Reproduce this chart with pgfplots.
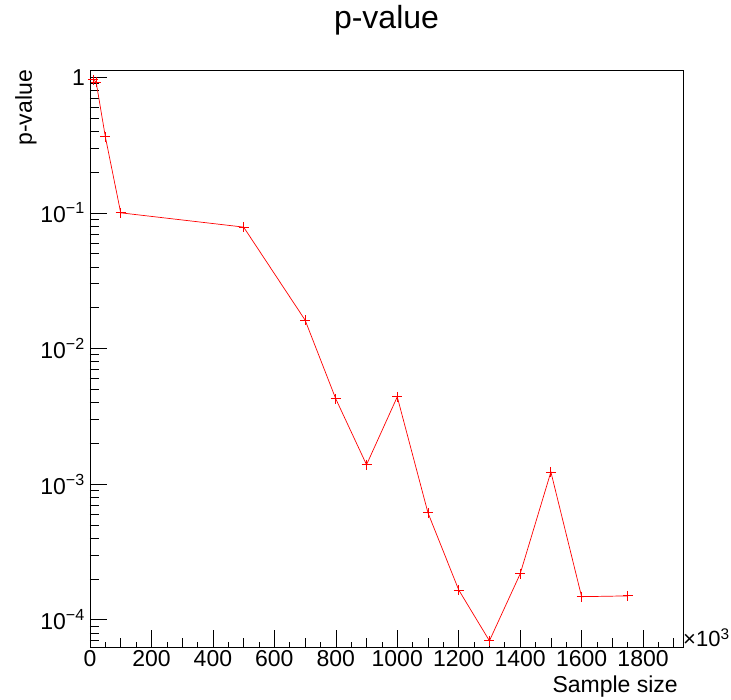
\documentclass[border=0pt]{standalone}
\usepackage{fontspec}
\setmainfont{Liberation Sans}
\usepackage{pgfplots}
\pgfplotsset{compat=1.18}
\begin{document}
\begin{tikzpicture}
\begin{axis}[
  name=ax,
  at={(0,0)}, anchor=south west,
  scale only axis, width=593pt, height=577pt,
  ymode=log,
  xmin=0, xmax=1930, ymin=6.3e-5, ymax=1.13,
  axis line style={line width=0.8pt, black},
  every tick/.style={black, line width=0.6pt},
  tick pos=left, tick align=inside,
  xtick={0,200,...,1800},
  minor xtick={100,300,...,1900},
  extra x ticks={50,150,...,1900},
  extra x tick labels={},
  extra x tick style={major tick length=5pt},
  major tick length=17pt,
  minor tick length=9pt,
  ytick={1e-4,1e-3,1e-2,1e-1,1},
  yticklabels={10\textsuperscript{−4},10\textsuperscript{−3},10\textsuperscript{−2},10\textsuperscript{−1},1},
  minor ytick={7e-5,8e-5,9e-5,2e-4,3e-4,4e-4,5e-4,6e-4,7e-4,8e-4,9e-4,2e-3,3e-3,4e-3,5e-3,6e-3,7e-3,8e-3,9e-3,2e-2,3e-2,4e-2,5e-2,6e-2,7e-2,8e-2,9e-2,2e-1,3e-1,4e-1,5e-1,6e-1,7e-1,8e-1,9e-1},
  xticklabel style={font=\fontsize{23}{23}\selectfont, inner sep=3pt},
  yticklabel style={font=\fontsize{23}{23}\selectfont, inner sep=5pt},
  /pgf/number format/assume math mode=true,
  scaled x ticks=false,
  xticklabel={\pgfmathprintnumber[fixed,precision=0,1000 sep={}]{\tick}},
]
\addplot[red, line width=0.7pt, mark=+, mark size=5pt, mark options={red, line width=0.8pt}] coordinates {
(10,0.96) (20,0.92) (50,0.363) (100,0.100) (500,0.0785) (700,0.0162)
(800,0.00425) (900,0.00139) (1000,0.0044) (1100,6.14e-4) (1200,1.66e-4)
(1300,7.0e-5) (1400,2.18e-4) (1500,1.23e-3) (1600,1.48e-4) (1750,1.50e-4)
};
\end{axis}
\node[anchor=base, inner sep=0pt, font=\fontsize{32}{32}\selectfont] at (296.5pt,618pt) {p-value};
\node[anchor=base east, rotate=90, inner sep=0pt, font=\fontsize{23}{23}\selectfont] at (-58pt,577pt) {p-value};
\node[anchor=base east, inner sep=0pt, font=\fontsize{23}{23}\selectfont] at (588pt,-46pt) {Sample size};
\node[anchor=base west, inner sep=0pt, font=\fontsize{22}{22}\selectfont] at (593pt,0pt) {×10\textsuperscript{3}};
\pgfresetboundingbox
\path (-90pt,-53pt) rectangle (641pt,647pt);
\end{tikzpicture}
\end{document}
